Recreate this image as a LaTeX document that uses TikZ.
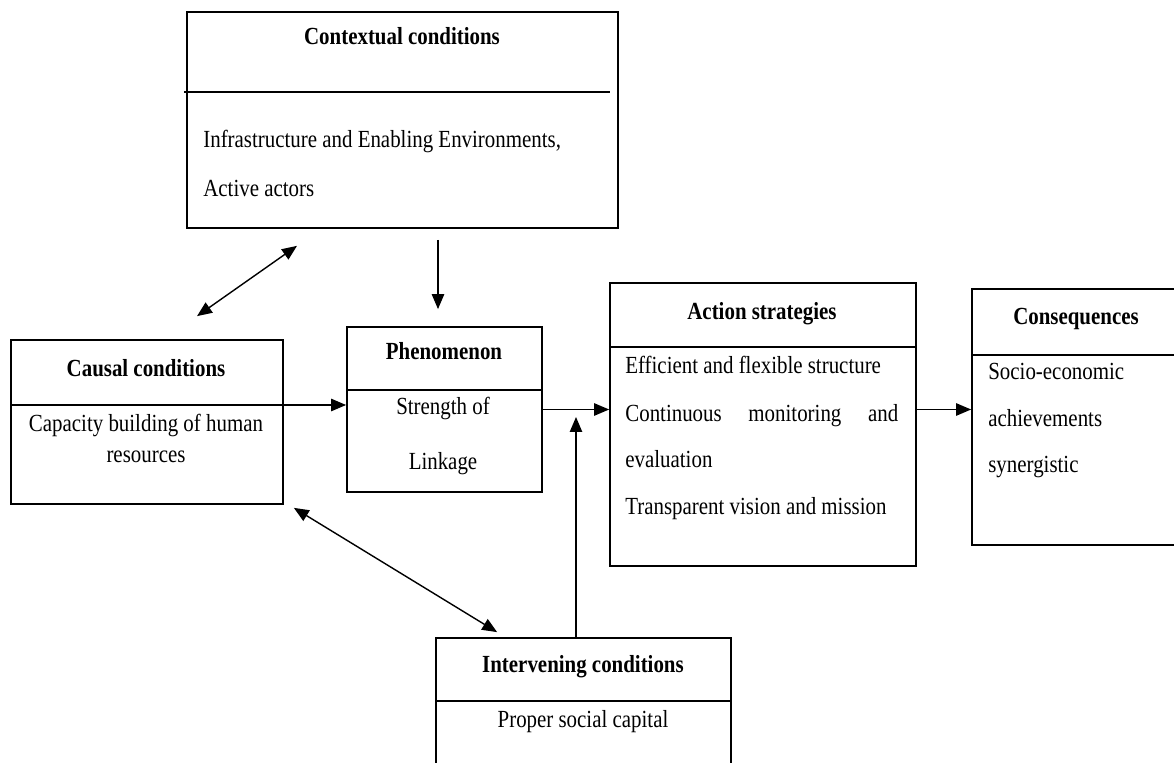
\documentclass[tikz,border=0pt]{standalone}
\usepackage{fontspec}
\setmainfont{Liberation Serif}[FakeStretch=0.85]
\usetikzlibrary{arrows.meta,calc}

\begin{document}
\begin{tikzpicture}[
            x=0.02cm, y=-0.02cm,
            box/.style={rectangle, draw, line width=1pt, inner sep=0pt},
            title/.style={font=\fontsize{14}{16}\selectfont\bfseries, inner sep=0pt, anchor=base},
            body/.style={font=\fontsize{14}{16}\selectfont, inner sep=0pt, anchor=base},
            bodyleft/.style={body, anchor=base west},
            sep/.style={line width=0.9pt},
            arrow/.style={-{Triangle[length=8.5pt,width=7pt]}, line width=0.8pt},
            twoway/.style={{Triangle[length=8.5pt,width=7pt]}-{Triangle[length=8.5pt,width=7pt]}, line width=0.8pt}
            ]
            \useasboundingbox (0,0) rectangle (1174,763);
            \clip (0,0) rectangle (1174,763);

            % Boxes
            \node[box, minimum width=8.62cm, minimum height=4.32cm] (context) at (402.5,120) {};
            \node[box, minimum width=5.44cm, minimum height=3.28cm] (causal) at (147,422) {};
            \node[box, minimum width=3.9cm, minimum height=3.3cm] (phen) at (444.5,409.5) {};
            \node[box, minimum width=6.12cm, minimum height=5.66cm] (action) at (763,424.5) {};
            \node[box, minimum width=4.36cm, minimum height=5.12cm] (cons) at (1081,417) {};
            \node[box, minimum width=5.9cm, minimum height=3.04cm] (interv) at (583.5,714) {};

            % Title rules
            \draw[sep] (184,92) -- (610,92);
            \draw[sep] (causal.west |- 0,405) -- (causal.east |- 0,405);
            \draw[sep] (phen.west |- 0,390) -- (phen.east |- 0,390);
            \draw[sep] (action.west |- 0,347) -- (action.east |- 0,347);
            \draw[sep] (cons.west |- 0,355) -- (cons.east |- 0,355);
            \draw[sep] (interv.west |- 0,701) -- (interv.east |- 0,701);

            % Titles
            \node[title] (context-title) at (402,45) {Contextual conditions};
            \node[title] (causal-title) at (146,377) {Causal conditions};
            \node[title] (phen-title) at (444,360) {Phenomenon};
            \node[title] (action-title) at (762,320) {Action strategies};
            \node[title] (cons-title) at (1076,325) {Consequences};
            \node[title] (interv-title) at (583,672) {Intervening conditions};

            % Contents
            \node[bodyleft] (context-a) at (203,148) {Infrastructure and Enabling Environments,};
            \node[bodyleft] (context-b) at (203,197) {Active actors};
            \node[body] (causal-a) at (146,432) {Capacity building of human};
            \node[body] (causal-b) at (146,463) {resources};
            \node[body] (phen-a) at (443,415) {Strength of};
            \node[body] (phen-b) at (443,470) {Linkage};
            \node[bodyleft] (action-a) at (625,374) {Efficient and flexible structure};
            \node[bodyleft] (action-b) at (625,422) {\makebox[5.46cm][s]{Continuous monitoring and}};
            \node[bodyleft] (action-c) at (625,468) {evaluation};
            \node[bodyleft] (action-d) at (625,515) {Transparent vision and mission};
            \node[bodyleft] (cons-a) at (988,380) {Socio-economic};
            \node[bodyleft] (cons-b) at (988,427) {achievements};
            \node[bodyleft] (cons-c) at (988,473) {synergistic};
            \node[body] (interv-a) at (583,727) {Proper social capital};

            % Free ends of the connectors
            \coordinate (ctx-foot) at ([shift={(-105.5,17)}]context.south);
            \coordinate (causal-top) at ([shift={(50,-23)}]causal.north);
            \coordinate (ctx-drop) at (438,240);
            \coordinate (merge) at ($(phen.east)!0.5!(action.west)$);
            \coordinate (causal-corner) at ([shift={(10,3)}]causal.south east);
            \coordinate (interv-top) at ([shift={(62,-5)}]interv.north west);

            % Connectors
            \draw[twoway] (causal-top) -- (ctx-foot);
            \draw[arrow, shorten >=0.34cm] (ctx-drop) -- (ctx-drop |- phen.north);
            \draw[arrow] (causal.east |- 0,405) -- (phen.west |- 0,405);
            \draw[arrow] (phen.east) -- (phen.east -| action.west);
            \draw[arrow] (phen.east -| action.east) -- (phen.east -| cons.west);
            \draw[arrow] (merge |- interv.north) -- (merge);
            \draw[twoway] (causal-corner) -- (interv-top);

        \end{tikzpicture}
\end{document}
